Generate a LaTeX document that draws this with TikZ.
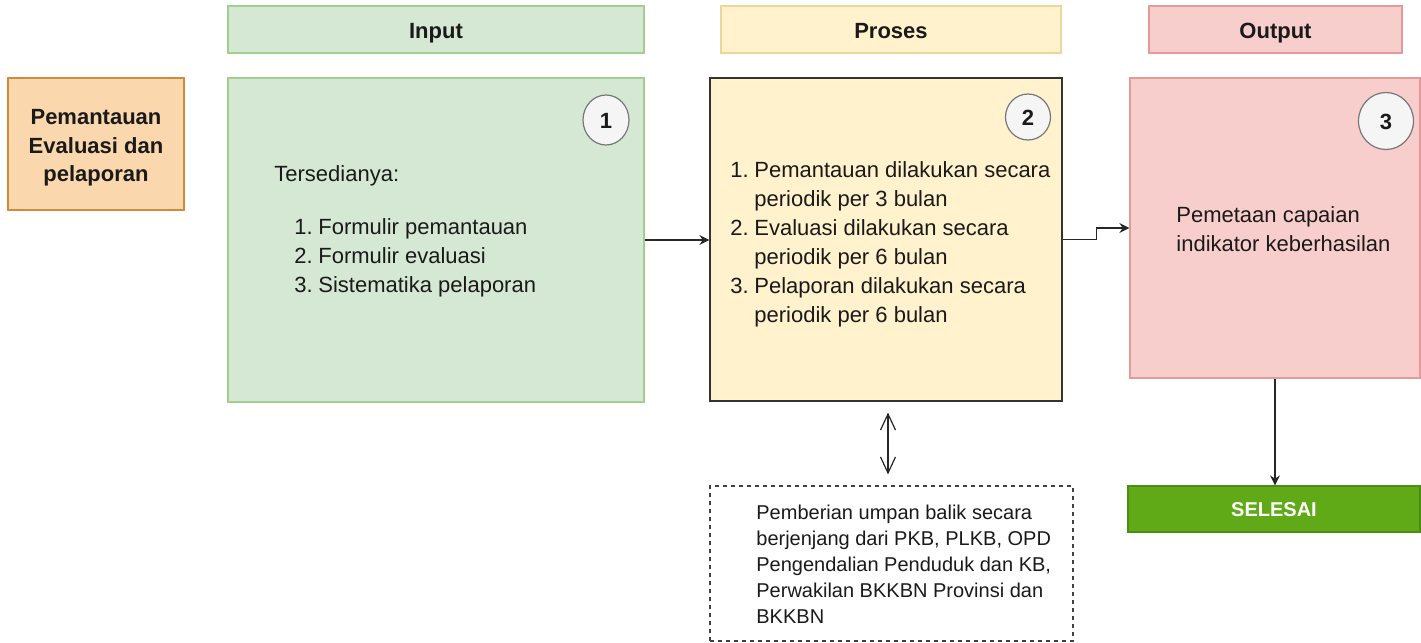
\documentclass[tikz,border=0pt]{standalone}
\usepackage{fontspec}
\setmainfont{Liberation Sans}
\usetikzlibrary{arrows.meta,shapes.geometric}
\definecolor{gfill}{HTML}{D5E8D4}
\definecolor{gline}{HTML}{A3CF8E}
\definecolor{yfill}{HTML}{FFF2CC}
\definecolor{yline}{HTML}{EBD79B}
\definecolor{rfill}{HTML}{F8CECC}
\definecolor{rline}{HTML}{E39A99}
\definecolor{ofill}{HTML}{FAD7AC}
\definecolor{oline}{HTML}{D08A3C}
\definecolor{sfill}{HTML}{60A917}
\definecolor{sline}{HTML}{4A8E12}
\definecolor{cfill}{HTML}{F5F5F5}
\definecolor{cline}{HTML}{777777}
\definecolor{txt}{HTML}{1A1A1A}
\tikzset{
  box/.style={draw, line width=0.6pt, inner sep=0pt},
  head/.style={box, font=\fontsize{11}{14}\selectfont\bfseries, text=txt, text height=9.4pt, text depth=0pt},
  num/.style={ellipse, draw=cline, fill=cfill, line width=0.6pt, inner sep=0pt, font=\fontsize{11}{13}\selectfont\bfseries, text=txt, text height=8.4pt, text depth=0pt},
  body/.style={inner sep=0pt, anchor=north west, align=left, text=txt, font=\fontsize{11}{14.5}\selectfont},
  conn/.style={line width=0.6pt, draw=black!85, -{Stealth[length=5pt,width=5pt]}},
}
\newcommand{\li}[1]{\makebox[12pt][l]{#1}}
\begin{document}
\begin{tikzpicture}[x=0.5pt,y=-0.5pt]
\useasboundingbox (0,0) rectangle (1421,643);
% headers
\node[head, fill=gfill, draw=gline, minimum width=208pt, minimum height=23.5pt] (inhead) at (436,29.5) {Input};
\node[head, fill=yfill, draw=yline, minimum width=170pt, minimum height=23.5pt] (prhead) at (891,29.5) {Proses};
\node[head, fill=rfill, draw=rline, minimum width=126.5pt, minimum height=23.5pt] (outhead) at (1275.5,29.5) {Output};
% left label
\node[box, fill=ofill, draw=oline, minimum width=88pt, minimum height=66pt] (left) at (96,144) {};
\node[align=center, inner sep=0pt, text=txt, font=\fontsize{11}{14.3}\selectfont\bfseries] (lefttxt) at (96,148) {Pemantauan\\Evaluasi dan\\pelaporan};
% main boxes
\node[box, fill=gfill, draw=gline, minimum width=208pt, minimum height=162pt] (inbox) at (436,240) {};
\node[box, fill=yfill, draw=black!80, minimum width=176pt, minimum height=161.5pt] (prbox) at (886,239.5) {};
\node[box, fill=rfill, draw=rline, minimum width=145pt, minimum height=150pt] (outbox) at (1275,228) {};
\node[box, draw=black!75, dashed, dash pattern=on 2pt off 2pt, minimum width=181.5pt, minimum height=77.5pt] (fb) at (891.5,563.5) {};
\node[box, fill=sfill, draw=sline, minimum width=146pt, minimum height=23pt, text=white, font=\fontsize{10}{12}\selectfont\bfseries, text height=7.5pt, text depth=0pt] (selesai) at (1274,509) {SELESAI};
% numbers
\node[num, minimum width=23pt, minimum height=25pt] (n1) at (606,120) {1};
\node[num, minimum width=22.5pt, minimum height=23pt] (n2) at (1028,117) {2};
\node[num, minimum width=27.5pt, minimum height=28.5pt] (n3) at (1386,121) {3};
% texts
\node[body] (tin) at (274,165) {Tersedianya:};
\node[body] (lin) at (294,214) {\begin{tabular}{@{}l@{}}
\li{1.}Formulir pemantauan\\
\li{2.}Formulir evaluasi\\
\li{3.}Sistematika pelaporan
\end{tabular}};
\node[body] (lpr) at (730,157) {\begin{tabular}{@{}l@{}}
\li{1.}Pemantauan dilakukan secara\\
\li{}periodik per 3 bulan\\
\li{2.}Evaluasi dilakukan secara\\
\li{}periodik per 6 bulan\\
\li{3.}Pelaporan dilakukan secara\\
\li{}periodik per 6 bulan
\end{tabular}};
\node[body] (tout) at (1176,206) {Pemetaan capaian\\indikator keberhasilan};
\node[body, font=\fontsize{10}{13}\selectfont] (tfb) at (756,505) {Pemberian umpan balik secara\\berjenjang dari PKB, PLKB, OPD\\Pengendalian Penduduk dan KB,\\Perwakilan BKKBN Provinsi dan\\BKKBN};
% connectors
\draw[conn] (inbox.east) -- (inbox.east -| prbox.west);
\draw[conn] (prbox.east) -- ++(34,0) |- (outbox.west);
\draw[line width=0.6pt, draw=black!85, {Straight Barb[length=8pt,width=7.5pt]}-{Straight Barb[length=8pt,width=7.5pt]}, shorten <=5.5pt, shorten >=5.5pt] ([xshift=1pt]prbox.south) -- ([xshift=1pt]prbox.south |- fb.north);
\draw[conn] (outbox.south) -- (outbox.south |- selesai.north);
\end{tikzpicture}
\end{document}
